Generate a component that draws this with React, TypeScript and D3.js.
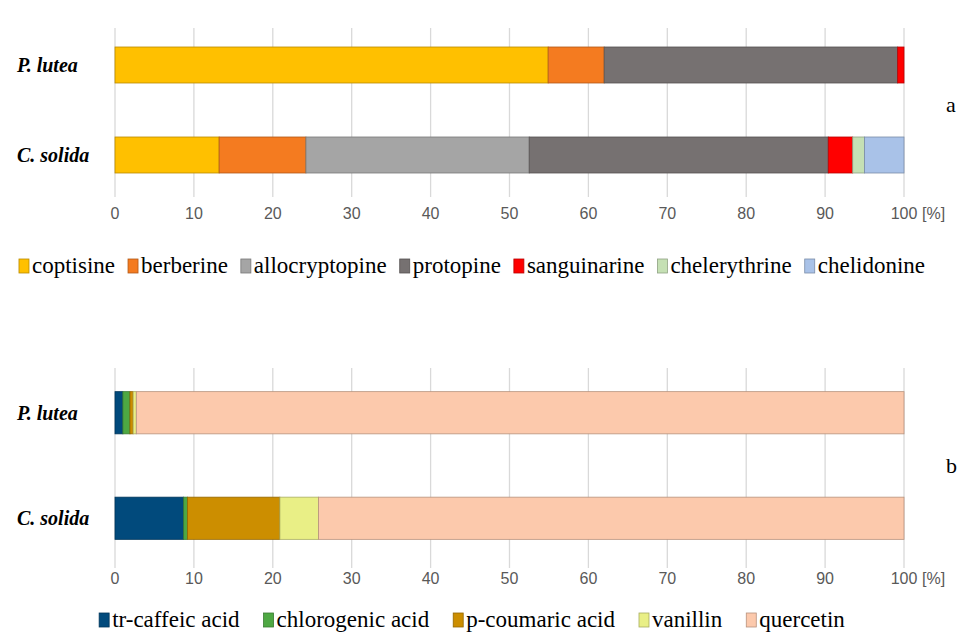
import React, { useEffect, useRef } from "react";
import * as d3 from "d3";

const species = ["P. lutea", "C. solida"];

const alkaloids = [
  "coptisine",
  "berberine",
  "allocryptopine",
  "protopine",
  "sanguinarine",
  "chelerythrine",
  "chelidonine",
];
const alkaloidColors = ["#FFC000", "#F47B20", "#A5A5A5", "#767171", "#FF0000", "#C5E0B4", "#A9C2E8"];
const alkaloidLutea = [54.9, 7.1, 0, 37.2, 0.8, 0, 0];
const alkaloidSolida = [13.2, 11.0, 28.3, 37.9, 3.1, 1.5, 5.0];

const phenolics = ["tr-caffeic acid", "chlorogenic acid", "p-coumaric acid", "vanillin", "quercetin"];
const phenolicColors = ["#014A7C", "#4EA843", "#CC8E00", "#E9EF86", "#FCC9AC"];
const phenolicLutea = [1.0, 0.9, 0.4, 0.4, 97.3];
const phenolicSolida = [8.7, 0.5, 11.7, 4.9, 74.2];

const ticks = [0, 10, 20, 30, 40, 50, 60, 70, 80, 90, 100];

const W = 957;
const H = 632;
const SERIF = "'Liberation Serif', 'DejaVu Serif', serif";
const SANS = "'Liberation Sans', 'DejaVu Sans', sans-serif";

interface PanelOpts {
  keys: string[];
  colors: string[];
  rows: number[][];
  bandTop: number;
  bandBottom: number;
  labelY: number;
  legendY: number;
  legendGap: number;
  letter: string;
  letterY: number;
}

const App: React.FC = () => {
  const svgRef = useRef<SVGSVGElement>(null);

  useEffect(() => {
    if (!svgRef.current) return;
    const svg = d3.select(svgRef.current);
    svg.selectAll("*").remove();

    const x = d3.scaleLinear().domain([0, 100]).range([115, 904]);

    const drawPanel = (o: PanelOpts) => {
      const g = svg.append("g");
      const y = d3
        .scaleBand<string>()
        .domain(species)
        .range([o.bandTop, o.bandBottom])
        .paddingInner(0.6)
        .paddingOuter(0.3);

      // grid
      g.selectAll("line.grid")
        .data(ticks)
        .enter()
        .append("line")
        .attr("x1", (d) => x(d))
        .attr("x2", (d) => x(d))
        .attr("y1", o.bandTop + 8)
        .attr("y2", o.bandBottom - 3)
        .attr("stroke", "#d9d9d9")
        .attr("stroke-width", 1.3);

      // tick labels
      g.selectAll("text.tick")
        .data(ticks)
        .enter()
        .append("text")
        .attr("x", (d) => x(d))
        .attr("y", o.labelY)
        .attr("text-anchor", "middle")
        .style("font-family", SANS)
        .style("font-size", "16px")
        .attr("fill", "#595959")
        .text((d) => String(d));
      g.append("text")
        .attr("x", x(100) + 18)
        .attr("y", o.labelY)
        .style("font-family", SANS)
        .style("font-size", "16px")
        .attr("fill", "#595959")
        .text("[%]");

      // stacked bars
      species.forEach((sp, i) => {
        const vals = o.rows[i];
        let acc = 0;
        vals.forEach((v, k) => {
          const x0 = acc;
          acc += v;
          if (v <= 0) return;
          g.append("rect")
            .attr("x", x(x0))
            .attr("y", y(sp) || 0)
            .attr("width", x(acc) - x(x0))
            .attr("height", y.bandwidth())
            .attr("fill", o.colors[k])
            .attr("stroke", d3.color(o.colors[k])!.darker(0.9).formatHex())
            .attr("stroke-width", 0.8);
        });
        g.append("text")
          .attr("x", 17)
          .attr("y", (y(sp) || 0) + y.bandwidth() / 2 + 7)
          .style("font-family", SERIF)
          .style("font-weight", "bold")
          .style("font-style", "italic")
          .style("font-size", "20px")
          .attr("fill", "#000")
          .text(sp);
      });

      g.append("text")
        .attr("x", 946)
        .attr("y", o.letterY)
        .style("font-family", SERIF)
        .style("font-size", "22px")
        .attr("fill", "#000")
        .text(o.letter);

      // legend, centred
      const lg = g.append("g");
      let cx = 0;
      o.keys.forEach((k, i) => {
        lg.append("rect")
          .attr("x", cx)
          .attr("y", o.legendY - 14)
          .attr("width", 10)
          .attr("height", 14)
          .attr("fill", o.colors[i])
          .attr("stroke", d3.color(o.colors[i])!.darker(0.9).formatHex())
          .attr("stroke-width", 0.8);
        const t = lg
          .append("text")
          .attr("x", cx + 13)
          .attr("y", o.legendY)
          .style("font-family", SERIF)
          .style("font-size", "23px")
          .attr("fill", "#000")
          .text(k);
        const w = (t.node() as SVGTextElement).getComputedTextLength();
        cx += 13 + w + o.legendGap;
      });
      const total = cx - o.legendGap;
      lg.attr("transform", `translate(${472 - total / 2},0)`);
    };

    drawPanel({
      keys: alkaloids,
      colors: alkaloidColors,
      rows: [alkaloidLutea, alkaloidSolida],
      bandTop: 20,
      bandBottom: 200,
      labelY: 219,
      legendY: 273,
      legendGap: 13,
      letter: "a",
      letterY: 112,
    });

    drawPanel({
      keys: phenolics,
      colors: phenolicColors,
      rows: [phenolicLutea, phenolicSolida],
      bandTop: 360,
      bandBottom: 571,
      labelY: 584,
      legendY: 627,
      legendGap: 24,
      letter: "b",
      letterY: 473,
    });
  }, []);

  return (
    <svg
      ref={svgRef}
      width={W}
      height={H}
      style={{ position: "absolute", left: 0, top: 0, background: "#fff" }}
    />
  );
};

export default App;
